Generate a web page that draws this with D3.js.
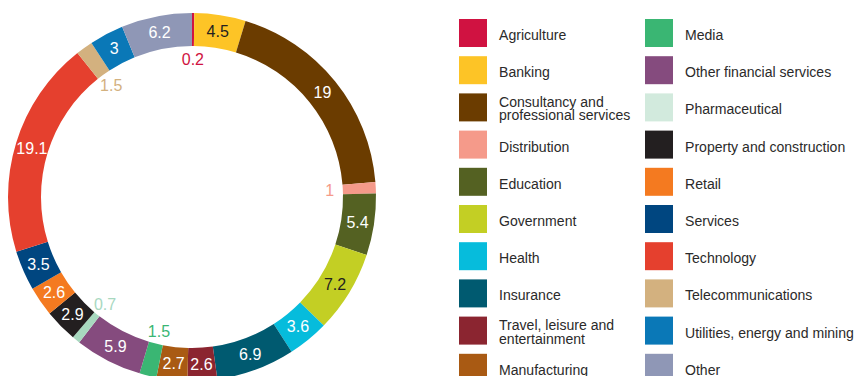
<!DOCTYPE html>
<html>
<head>
<meta charset="utf-8">
<script src="https://cdn.jsdelivr.net/npm/d3@7/dist/d3.min.js"></script>
<style>
  html, body { margin: 0; padding: 0; background: #fff; }
  svg { display: block; }
  .legend text { font-family: "Liberation Sans", Arial, Helvetica, sans-serif; font-size: 15.3px; fill: #2b2a2a; }
  .val { font-family: "Liberation Sans", Arial, Helvetica, sans-serif; font-size: 16px; }
</style>
</head>
<body>
<svg id="chart" width="854" height="376"></svg>
<script>
// Sector share (%) of the sample, clockwise from twelve o'clock
const sectors = [
  "Agriculture", "Banking", "Consultancy and professional services", "Distribution",
  "Education", "Government", "Health", "Insurance", "Travel, leisure and entertainment",
  "Manufacturing", "Media", "Other financial services", "Pharmaceutical",
  "Property and construction", "Retail", "Services", "Technology",
  "Telecommunications", "Utilities, energy and mining", "Other"
];
const shares = [0.2, 4.5, 19, 1, 5.4, 7.2, 3.6, 6.9, 2.6, 2.7, 1.5, 5.9, 0.7, 2.9, 2.6, 3.5, 19.1, 1.5, 3, 6.2];
const colours = [
  "#d01241", "#fdc426", "#6b3c00", "#f59a8a", "#546122", "#c3cf24", "#06bcdc", "#005a70",
  "#8b2530", "#a95a13", "#3ab673", "#854b7e", "#a8d8bf", "#231f20", "#f47a20", "#004680",
  "#e5402e", "#d3b17f", "#0a78b7", "#8f97b6"
];
// Legend swatches that are printed in a paler tint than the ring
const swatchTint = { "Pharmaceutical": "#d2eadd" };
// Legend label lines (wrapped entries span two lines)
const legendLines = [
  ["Agriculture"], ["Banking"], ["Consultancy and", "professional services"], ["Distribution"],
  ["Education"], ["Government"], ["Health"], ["Insurance"], ["Travel, leisure and", "entertainment"],
  ["Manufacturing"], ["Media"], ["Other financial services"], ["Pharmaceutical"],
  ["Property and construction"], ["Retail"], ["Services"], ["Technology"],
  ["Telecommunications"], ["Utilities, energy and mining"], ["Other"]
];
// Values printed in the hole rather than on the ring
const outsideLabels = new Set(["Agriculture", "Distribution", "Media", "Pharmaceutical", "Telecommunications"]);
// Ring labels drawn dark on light segments
const darkLabels = new Set(["Banking", "Government"]);

const data = sectors.map((s, i) => ({ sector: s, value: shares[i], colour: colours[i], lines: legendLines[i] }));

const svg = d3.select("#chart");
const cx = 192, cy = 197, rOuter = 184, rInner = 151;

const pie = d3.pie().value(d => d.value).sort(null);
const arcs = pie(data);
const arc = d3.arc().innerRadius(rInner).outerRadius(rOuter);
const midArc = d3.arc().innerRadius((rInner + rOuter) / 2).outerRadius((rInner + rOuter) / 2);
const holeArc = d3.arc().innerRadius(138).outerRadius(138);

const ring = svg.append("g").attr("transform", `translate(${cx},${cy})`);

ring.selectAll("path")
  .data(arcs)
  .join("path")
  .attr("d", arc)
  .attr("fill", d => d.data.colour);

ring.selectAll("text")
  .data(arcs)
  .join("text")
  .attr("class", "val")
  .attr("transform", d => {
    const p = outsideLabels.has(d.data.sector) ? holeArc.centroid(d) : midArc.centroid(d);
    return `translate(${p[0]},${p[1]})`;
  })
  .attr("text-anchor", "middle")
  .attr("dy", "0.36em")
  .attr("fill", d => outsideLabels.has(d.data.sector) ? d.data.colour
                   : darkLabels.has(d.data.sector) ? "#231f20" : "#ffffff")
  .text(d => d3.format("~g")(d.data.value));

// Legend: two columns of ten, condensed type
const rowStep = 37.2;
const colX = [459, 645];
const legend = svg.append("g").attr("class", "legend");
const items = legend.selectAll("g")
  .data(data)
  .join("g")
  .attr("transform", (d, i) => `translate(${colX[Math.floor(i / 10)]},${19 + (i % 10) * rowStep})`);

items.append("rect")
  .attr("width", 28)
  .attr("height", 28)
  .attr("fill", d => swatchTint[d.sector] || d.colour);

items.each(function (d) {
  const g = d3.select(this);
  const n = d.lines.length;
  d.lines.forEach((line, j) => {
    const y = n === 1 ? 21 : 13.5 + j * 13.5;
    g.append("text")
      .attr("transform", `translate(40,${y}) scale(0.92,1)`)
      .text(line);
  });
});
</script>
</body>
</html>
